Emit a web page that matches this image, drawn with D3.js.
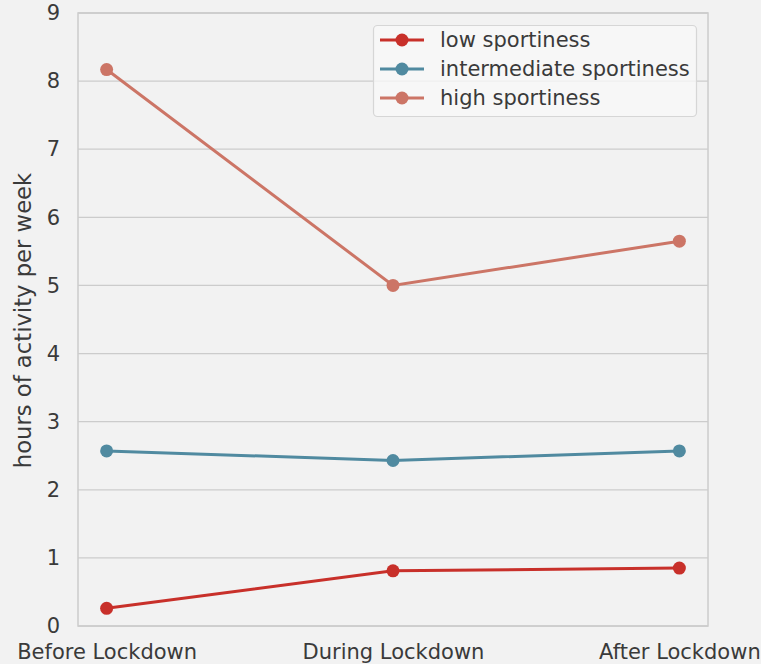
<!DOCTYPE html>
<html><head><meta charset="utf-8">
<script src="https://cdn.jsdelivr.net/npm/d3@7"></script>
<style>body{margin:0;background:#f2f2f2;} svg{display:block;font-family:"DejaVu Sans",sans-serif;}</style>
</head><body><svg id="c" width="761" height="664"></svg>
<script>
const categories = ["Before Lockdown", "During Lockdown", "After Lockdown"];
const seriesNames = ["low sportiness", "intermediate sportiness", "high sportiness"];
const lowValues = [0.26, 0.81, 0.85];
const intermediateValues = [2.57, 2.43, 2.57];
const highValues = [8.17, 5.0, 5.65];
const yTicks = [0,1,2,3,4,5,6,7,8,9];
const colors = ["#c8302a", "#508aa0", "#cc7566"];

const series = [lowValues, intermediateValues, highValues];
const svg = d3.select("#c");
const m = {l:78, t:13, r:708, b:626};
const x = d3.scaleLinear().domain([-0.1, 2.1]).range([m.l, m.r]);
const y = d3.scaleLinear().domain([0, 9]).range([m.b, m.t]);
const textColor = "#3a3a3a";

svg.append("rect").attr("width",761).attr("height",664).attr("fill","#f2f2f2");

// grid
svg.append("g").selectAll("line").data(yTicks).join("line")
  .attr("x1", m.l).attr("x2", m.r).attr("y1", d=>y(d)).attr("y2", d=>y(d))
  .attr("stroke", "#cccccc").attr("stroke-width", 1.3);

// frame
svg.append("rect").attr("x", m.l).attr("y", m.t).attr("width", m.r-m.l).attr("height", m.b-m.t)
  .attr("fill","none").attr("stroke","#cccccc").attr("stroke-width",1.5);

// y axis
const ya = svg.append("g").attr("transform",`translate(${m.l},0)`)
  .call(d3.axisLeft(y).tickValues(yTicks).tickSize(0).tickPadding(18).tickFormat(d3.format("d")));
ya.select(".domain").remove();
ya.selectAll("text").attr("font-size", 21).attr("fill", textColor).attr("font-family","DejaVu Sans");

// x axis
const xa = svg.append("g").attr("transform",`translate(0,${m.b})`)
  .call(d3.axisBottom(x).tickValues([0,1,2]).tickSize(0).tickPadding(18).tickFormat(i=>categories[i]));
xa.select(".domain").remove();
xa.selectAll("text").attr("font-size", 21).attr("fill", textColor).attr("font-family","DejaVu Sans");

// y label
svg.append("text").attr("transform", `translate(31,${(173+468)/2}) rotate(-90)`)
  .attr("text-anchor","middle").attr("font-size", 22.7).attr("fill", textColor)
  .text("hours of activity per week");

// lines
const line = d3.line().x((d,i)=>x(i)).y(d=>y(d));
series.forEach((vals, k) => {
  svg.append("path").datum(vals).attr("d", line).attr("fill","none")
    .attr("stroke", colors[k]).attr("stroke-width", 3);
  svg.append("g").selectAll("circle").data(vals).join("circle")
    .attr("cx", (d,i)=>x(i)).attr("cy", d=>y(d)).attr("r", 6.5).attr("fill", colors[k]);
});

// legend
const lg = svg.append("g");
lg.append("rect").attr("x", 373.5).attr("y", 25.5).attr("width", 323).attr("height", 91).attr("rx", 4)
  .attr("fill", "#f8f8f8").attr("fill-opacity", 0.8).attr("stroke", "#d6d6d6").attr("stroke-width", 1.2);
seriesNames.forEach((name, k) => {
  const yy = 40 + k*29;
  lg.append("line").attr("x1", 380).attr("x2", 424).attr("y1", yy).attr("y2", yy)
    .attr("stroke", colors[k]).attr("stroke-width", 3);
  lg.append("circle").attr("cx", 402).attr("cy", yy).attr("r", 6.5).attr("fill", colors[k]);
  lg.append("text").attr("x", 440).attr("y", yy).attr("dy", "0.35em").attr("font-size", 21)
    .attr("fill", textColor).text(name);
});
</script></body></html>
